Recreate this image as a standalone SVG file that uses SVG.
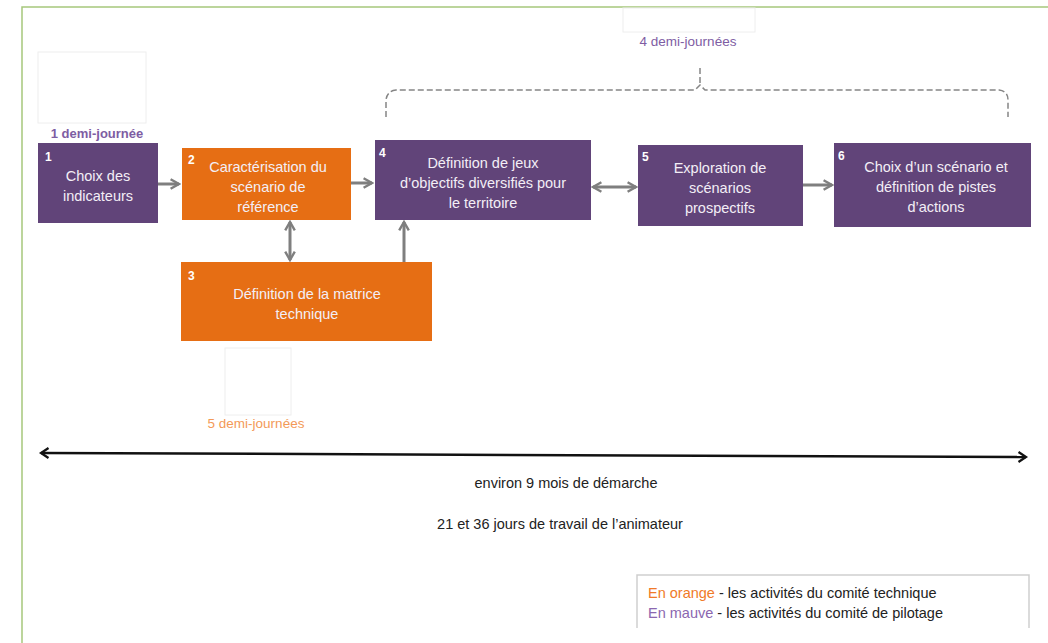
<svg xmlns="http://www.w3.org/2000/svg" width="1048" height="643" viewBox="0 0 1048 643">
<defs>
<style>
.t{font-family:"Liberation Sans",Arial,sans-serif;}
.nt{font-family:"Liberation Sans",Arial,sans-serif;font-size:14.5px;fill:#F3EEF6;text-anchor:middle;}
.num{font-family:"Liberation Sans",Arial,sans-serif;font-size:12px;font-weight:bold;fill:#FFFFFF;}
.purple{fill:#614479;}
.orange{fill:#E66E14;}
.conn{stroke:#7F7F7F;stroke-width:3;fill:none;}
.ghost{fill:#FFFFFF;stroke:#EEEEEE;stroke-width:1;}
.dark{font-family:"Liberation Sans",Arial,sans-serif;font-size:14.5px;fill:#222222;}
</style>
<marker id="ah" viewBox="0 0 10 10" refX="8" refY="5" markerWidth="4" markerHeight="4" orient="auto-start-reverse" markerUnits="strokeWidth">
<path d="M1,1 L8,5 L1,9" fill="none" stroke="#7F7F7F" stroke-width="2"/>
</marker>
<marker id="ahk" viewBox="0 0 10 10" refX="8" refY="5" markerWidth="5" markerHeight="5" orient="auto-start-reverse" markerUnits="strokeWidth">
<path d="M2,1 L8,5 L2,9" fill="none" stroke="#111111" stroke-width="1.8"/>
</marker>
</defs>
<rect x="0" y="0" width="1048" height="643" fill="#FFFFFF"/>
<path d="M22,643 L22,7 L1048,7" fill="none" stroke="#A6C77C" stroke-width="1.5"/>

<g id="ghost-boxes">
<rect class="ghost" x="38" y="52" width="108" height="71"/>
<rect class="ghost" x="623" y="8" width="132" height="24"/>
<rect class="ghost" x="225" y="348" width="66" height="67"/>
</g>

<g id="duration-labels" class="t">
<text x="97" y="138" font-size="13" font-weight="bold" fill="#7E5DA3" text-anchor="middle">1 demi-journée</text>
<text x="688" y="46" font-size="13.5" fill="#7E5DA3" text-anchor="middle">4 demi-journées</text>
<text x="256" y="428" font-size="13.5" fill="#F39A58" text-anchor="middle">5 demi-journées</text>
</g>

<g id="bracket" fill="none" stroke="#858585" stroke-width="1.5" stroke-dasharray="6,3">
<path d="M386,117 L386,100 Q387,91 396,90 L695,90 L700,85 L705,90 L999,90 Q1008,91 1008,100 L1008,117"/>
<path d="M700,68 L700,84"/>
</g>

<g id="connectors">
<line class="conn" x1="158" y1="184" x2="179" y2="184" marker-end="url(#ah)"/>
<line class="conn" x1="351" y1="183" x2="372" y2="183" marker-end="url(#ah)"/>
<line class="conn" x1="593" y1="187" x2="636" y2="187" marker-start="url(#ah)" marker-end="url(#ah)"/>
<line class="conn" x1="803" y1="185" x2="832" y2="185" marker-end="url(#ah)"/>
<line class="conn" x1="290" y1="222" x2="290" y2="260" marker-start="url(#ah)" marker-end="url(#ah)"/>
<line class="conn" x1="404" y1="262" x2="404" y2="222" marker-end="url(#ah)"/>
</g>

<g id="node1">
<rect class="purple" x="38" y="143" width="120" height="80"/>
<text class="num" x="45" y="161">1</text>
<text class="nt" x="98" y="181">Choix des</text>
<text class="nt" x="98" y="201">indicateurs</text>
</g>
<g id="node2">
<rect class="orange" x="182" y="148" width="169" height="72"/>
<text class="num" x="188" y="164">2</text>
<text class="nt" x="268" y="172">Caractérisation du</text>
<text class="nt" x="268" y="192">scénario de</text>
<text class="nt" x="268" y="212">référence</text>
</g>
<g id="node3">
<rect class="orange" x="181" y="262" width="251" height="79"/>
<text class="num" x="188" y="280">3</text>
<text class="nt" x="307" y="299">Définition de la matrice</text>
<text class="nt" x="307" y="319">technique</text>
</g>
<g id="node4">
<rect class="purple" x="375" y="140" width="216" height="80"/>
<text class="num" x="379" y="157">4</text>
<text class="nt" x="483" y="168">Définition de jeux</text>
<text class="nt" x="483" y="188">d’objectifs diversifiés pour</text>
<text class="nt" x="483" y="208">le territoire</text>
</g>
<g id="node5">
<rect class="purple" x="638" y="145" width="165" height="81"/>
<text class="num" x="642" y="161">5</text>
<text class="nt" x="720" y="173">Exploration de</text>
<text class="nt" x="720" y="193">scénarios</text>
<text class="nt" x="720" y="213">prospectifs</text>
</g>
<g id="node6">
<rect class="purple" x="834" y="143" width="197" height="84"/>
<text class="num" x="838" y="160">6</text>
<text class="nt" x="936" y="172">Choix d’un scénario et</text>
<text class="nt" x="936" y="192">définition de pistes</text>
<text class="nt" x="936" y="212">d’actions</text>
</g>

<g id="timeline">
<line x1="41" y1="453" x2="1026" y2="457" stroke="#111111" stroke-width="2.5" marker-start="url(#ahk)" marker-end="url(#ahk)"/>
<text class="dark" x="566" y="488" text-anchor="middle">environ 9 mois de démarche</text>
<text class="dark" x="560" y="529" text-anchor="middle">21 et 36 jours de travail de l’animateur</text>
</g>

<g id="legend">
<path d="M637,628 L637,575 L1029,575 L1029,628" fill="#FFFFFF" stroke="#CFCFCF" stroke-width="1.5"/>
<text class="dark" x="648" y="598"><tspan fill="#F07A28">En orange</tspan> - les activités du comité technique</text>
<text class="dark" x="648" y="618"><tspan fill="#8B67B0">En mauve</tspan> - les activités du comité de pilotage</text>
</g>
</svg>
